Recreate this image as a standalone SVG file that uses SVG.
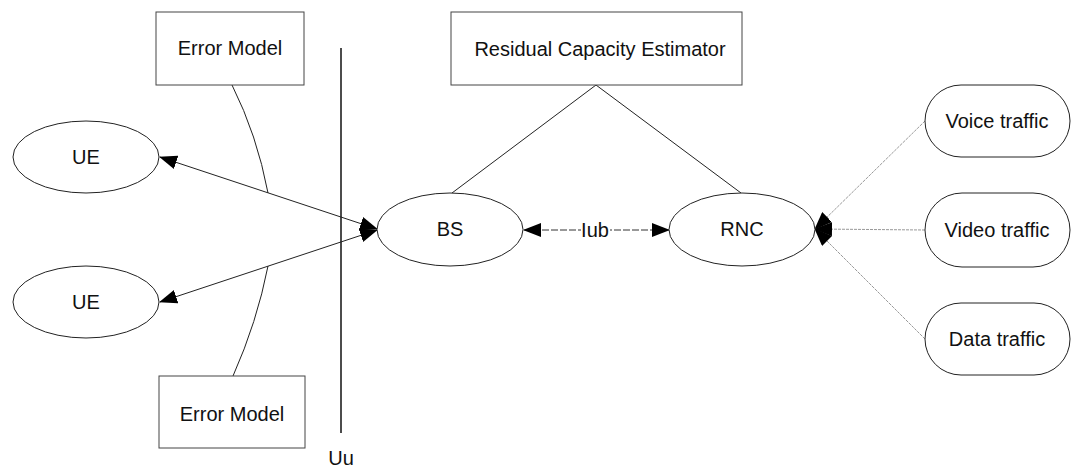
<svg xmlns="http://www.w3.org/2000/svg" width="1072" height="468" viewBox="0 0 1072 468">
<style>
text{font-family:"Liberation Sans",Arial,sans-serif;font-size:20px;fill:#111;text-anchor:middle}
.box{fill:#fff;stroke:#444;stroke-width:1}
.node{fill:#fff;stroke:#222;stroke-width:1}
.ln{fill:none;stroke:#222;stroke-width:1}
.tr{fill:none;stroke:#999;stroke-width:1;stroke-dasharray:3,1}
</style>
<defs>
<marker id="ah" markerUnits="userSpaceOnUse" markerWidth="18" markerHeight="14" refX="17" refY="7" orient="auto-start-reverse" viewBox="0 0 18 14">
<path d="M0,0 L18,7 L0,14 z" fill="#000"/>
</marker>
</defs>
<rect width="1072" height="468" fill="#fff"/>
<g id="connectors">
<path class="ln" d="M232,85 Q257,135 268,193"/>
<path class="ln" d="M268,266 Q257,322 233,376"/>
<line x1="341" y1="48" x2="341" y2="433" stroke="#111" stroke-width="1.5"/>
<line class="ln" x1="160" y1="157" x2="377" y2="229" marker-start="url(#ah)" marker-end="url(#ah)"/>
<line class="ln" x1="160" y1="302" x2="377" y2="230" marker-start="url(#ah)" marker-end="url(#ah)"/>
<line class="ln" x1="596" y1="85" x2="452" y2="193"/>
<line class="ln" x1="596" y1="85" x2="741" y2="193"/>
<line x1="524" y1="230" x2="669" y2="230" stroke="#333" stroke-width="1" stroke-dasharray="7,2" marker-start="url(#ah)" marker-end="url(#ah)"/>
<rect x="581" y="218" width="29" height="24" fill="#fff"/>
<text x="595" y="237">Iub</text>
<line class="tr" x1="925" y1="121" x2="815" y2="229" marker-end="url(#ah)"/>
<line class="tr" x1="925" y1="230" x2="815" y2="229" marker-end="url(#ah)"/>
<line class="tr" x1="925" y1="339" x2="815" y2="229" marker-end="url(#ah)"/>
</g>
<g id="error-model-top"><rect class="box" x="156" y="12" width="148" height="73"/><text x="230" y="55">Error Model</text></g>
<g id="error-model-bottom"><rect class="box" x="159" y="376" width="146" height="72"/><text x="232" y="421">Error Model</text></g>
<g id="rce"><rect class="box" x="451" y="12" width="291" height="73"/><text x="600" y="56">Residual Capacity Estimator</text></g>
<g id="ue1"><ellipse class="node" cx="86" cy="157" rx="73" ry="36"/><text x="86" y="164">UE</text></g>
<g id="ue2"><ellipse class="node" cx="86" cy="302" rx="73" ry="36"/><text x="86" y="309">UE</text></g>
<g id="bs"><ellipse class="node" cx="450" cy="229.5" rx="73" ry="36.5"/><text x="450" y="236">BS</text></g>
<g id="rnc"><ellipse class="node" cx="742" cy="229.5" rx="73" ry="36.5"/><text x="742" y="236">RNC</text></g>
<g id="voice"><rect class="node" x="925" y="85" width="145" height="72" rx="36"/><text x="997" y="128">Voice traffic</text></g>
<g id="video"><rect class="node" x="925" y="193" width="145" height="74" rx="37"/><text x="997" y="237">Video traffic</text></g>
<g id="data"><rect class="node" x="925" y="303" width="145" height="72" rx="36"/><text x="997" y="346">Data traffic</text></g>
<g id="uu-label"><text x="341" y="465">Uu</text></g>
</svg>
